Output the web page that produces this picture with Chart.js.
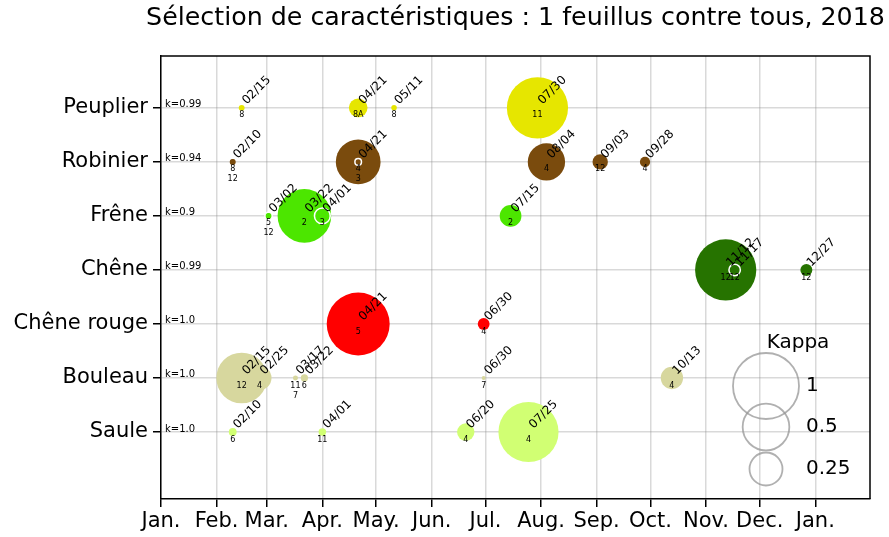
<!DOCTYPE html>
<html lang="fr">
<head>
<meta charset="UTF-8">
<title>Sélection de caractéristiques</title>
<script src="https://cdn.jsdelivr.net/npm/chart.js"></script>
<style>
    html, body { margin: 0; padding: 0; background: #fff; }
    #cadre { width: 889px; height: 537px; }
</style>
</head>
<body>
<div id="cadre"><canvas id="graphique"></canvas></div>
<script>
    // espèces (de haut en bas) et kappa global affiché à gauche
    const especes = ['Peuplier', 'Robinier', 'Frêne', 'Chêne', 'Chêne rouge', 'Bouleau', 'Saule'];
    const kappaEspece = ['0.99', '0.94', '0.9', '0.99', '1.0', '1.0', '1.0'];
    const couleurs = ['#e6e600', '#7a4b0d', '#4ce600', '#267300', '#ff0000', '#d7d79e', '#d1ff73'];

    const titre = 'Sélection de caractéristiques : 1 feuillus contre tous, 2018';
    const mois = ['Jan.', 'Feb.', 'Mar.', 'Apr.', 'May.', 'Jun.', 'Jul.', 'Aug.', 'Sep.', 'Oct.', 'Nov.', 'Dec.', 'Jan.'];
    const debutMois = [0, 31, 59, 90, 120, 151, 181, 212, 243, 273, 304, 334, 365];

    // un point = une date d'image sélectionnée
    const ptEspece = [0, 0, 0, 0,
        1, 1, 1, 1, 1, 1, 1,
        2, 2, 2, 2, 2,
        3, 3, 3,
        4, 4,
        5, 5, 5, 5, 5, 5, 5,
        6, 6, 6, 6];
    const ptDate = ['02/15', '04/21', '05/11', '07/30',
        '02/10', '02/10', '04/21', '04/21', '08/04', '09/03', '09/28',
        '03/02', '03/02', '03/22', '04/01', '07/15',
        '11/12', '11/17', '12/27',
        '04/21', '06/30',
        '02/15', '02/25', '03/17', '03/17', '03/22', '06/30', '10/13',
        '02/10', '04/01', '06/20', '07/25'];
    const ptKappa = [0.008, 0.08, 0.007, 0.86,
        0.008, 0.006, 0.46, 0.01, 0.32, 0.054, 0.024,
        0.012, 0.006, 0.66, 0.057, 0.108,
        0.86, 0.03, 0.033,
        0.91, 0.032,
        0.59, 0.13, 0.0056, 0.004, 0.012, 0.0036, 0.114,
        0.014, 0.013, 0.069, 0.83];
    const ptNumero = ['8', '8A', '8', '11',
        '8', '12', '4', '3', '4', '12', '4',
        '5', '12', '2', '3', '2',
        '12', '12', '12',
        '5', '4',
        '12', '4', '11', '7', '6', '7', '4',
        '6', '11', '4', '4'];
    const ptContour = [0, 0, 0, 0,
        0, 0, 0, 1, 0, 0, 0,
        1, 0, 0, 1, 0,
        0, 1, 0,
        0, 0,
        0, 0, 0, 0, 0, 0, 0,
        0, 0, 0, 0];

    const legendeKappa = [1, 0.5, 0.25];

    const RAYON = 33; // rayon en px pour kappa = 1

    function jour(d) {
        const [m, j] = d.split('/').map(Number);
        return debutMois[m - 1] + j - 1;
    }

    const datasets = especes.map((nom, e) => {
        const idx = ptEspece.map((v, i) => v === e ? i : -1).filter(i => i >= 0);
        return {
            label: nom,
            data: idx.map(i => ({
                x: jour(ptDate[i]),
                y: 6 - e,
                r: RAYON * Math.sqrt(ptKappa[i]),
                date: ptDate[i],
                num: ptNumero[i]
            })),
            backgroundColor: couleurs[e],
            borderColor: idx.map(i => ptContour[i] ? '#ffffff' : couleurs[e]),
            borderWidth: idx.map(i => ptContour[i] ? 1.5 : 0),
            hoverRadius: 0
        };
    });

    const annotations = {
        id: 'annotations',
        afterDraw(chart) {
            const ctx = chart.ctx;
            const area = chart.chartArea;
            const yScale = chart.scales.y;
            ctx.save();
            ctx.fillStyle = '#000';

            // titre centré sur la zone du graphique
            ctx.font = '25.3px "DejaVu Sans"';
            ctx.textAlign = 'center';
            ctx.textBaseline = 'middle';
            ctx.fillText(titre, (area.left + area.right) / 2, 18);

            // k=... à gauche de chaque ligne
            ctx.font = '10px "DejaVu Sans"';
            ctx.textAlign = 'left';
            ctx.textBaseline = 'alphabetic';
            especes.forEach((_, e) => {
                ctx.fillText('k=' + kappaEspece[e], area.left + 4, yScale.getPixelForValue(6 - e) - 0.5);
            });

            chart.data.datasets.forEach((ds, d) => {
                const meta = chart.getDatasetMeta(d);
                meta.data.forEach((el, i) => {
                    const p = ds.data[i];
                    let rang = 0;
                    for (let k = 0; k < i; k++) if (ds.data[k].date === p.date) rang++;
                    // date en diagonale (une seule fois par date)
                    if (rang === 0) {
                        ctx.save();
                        ctx.translate(el.x + 5, el.y - 3);
                        ctx.rotate(-Math.PI / 4);
                        ctx.font = '12px "DejaVu Sans"';
                        ctx.textAlign = 'left';
                        ctx.textBaseline = 'alphabetic';
                        ctx.fillText(p.date, 0, 0);
                        ctx.restore();
                    }
                    // numéro sous le point, empilé si même date
                    ctx.font = '8px "DejaVu Sans"';
                    ctx.textAlign = 'center';
                    ctx.textBaseline = 'middle';
                    ctx.fillText(p.num, el.x, el.y + 7.5 + rang * 10);
                });
            });

            // cadre haut et droite
            ctx.strokeStyle = '#000';
            ctx.lineWidth = 1.5;
            ctx.beginPath();
            ctx.moveTo(area.left, area.top);
            ctx.lineTo(area.right, area.top);
            ctx.lineTo(area.right, area.bottom);
            ctx.stroke();

            // légende des tailles
            const cx = area.right - 104;
            const cy = [area.bottom - 113, area.bottom - 72, area.bottom - 30];
            ctx.font = '20px "DejaVu Sans"';
            ctx.textAlign = 'center';
            ctx.textBaseline = 'middle';
            ctx.fillText('Kappa', area.right - 72, area.bottom - 156);
            ctx.textAlign = 'left';
            legendeKappa.forEach((k, i) => {
                ctx.beginPath();
                ctx.arc(cx, cy[i], RAYON * Math.sqrt(k), 0, Math.PI * 2);
                ctx.strokeStyle = 'rgba(150,150,150,0.75)';
                ctx.lineWidth = 1.8;
                ctx.stroke();
                ctx.fillText(String(k), area.right - 64, cy[i]);
            });
            ctx.restore();
        }
    };

    Chart.defaults.font.family = '"DejaVu Sans"';
    Chart.defaults.color = '#000';

    new Chart(document.getElementById('graphique'), {
        type: 'bubble',
        data: { datasets: datasets },
        options: {
            responsive: true,
            maintainAspectRatio: false,
            animation: false,
            events: [],
            layout: { autoPadding: false, padding: { top: 56, right: 19, bottom: 0, left: 0 } },
            plugins: {
                legend: { display: false },
                tooltip: { enabled: false },
                title: { display: false }
            },
            scales: {
                x: {
                    type: 'linear',
                    min: 0,
                    max: 395.5,
                    z: 1,
                    afterBuildTicks: s => { s.ticks = debutMois.map(v => ({ value: v })); },
                    afterFit: s => { s.height = 38; },
                    ticks: {
                        callback: (v, i) => mois[i],
                        font: { size: 21 },
                        padding: 2,
                        maxRotation: 0,
                        autoSkip: false
                    },
                    grid: { color: 'rgba(128,128,128,0.3)', lineWidth: 1.5, tickLength: 8, tickColor: '#000', tickWidth: 1.5 },
                    border: { color: '#000', width: 1.5 }
                },
                y: {
                    type: 'linear',
                    min: -1.24,
                    max: 6.96,
                    z: 1,
                    afterBuildTicks: s => { s.ticks = especes.map((_, e) => ({ value: 6 - e })); },
                    afterFit: s => { s.width = 161; },
                    ticks: {
                        callback: v => especes[6 - v],
                        font: { size: 21 },
                        padding: 5,
                        autoSkip: false
                    },
                    grid: { color: 'rgba(128,128,128,0.3)', lineWidth: 1.5, tickLength: 8, tickColor: '#000', tickWidth: 1.5 },
                    border: { color: '#000', width: 1.5 }
                }
            }
        },
        plugins: [annotations]
    });
</script>
</body>
</html>
